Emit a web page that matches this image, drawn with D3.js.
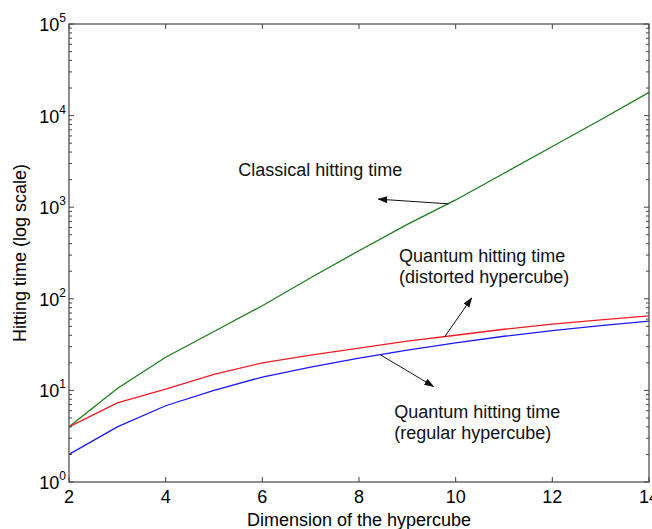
<!DOCTYPE html>
<html>
<head>
<meta charset="utf-8">
<script src="https://cdn.jsdelivr.net/npm/d3@7"></script>
<style>
  body { margin: 0; background: #fff; }
  svg { display: block; font-family: "Liberation Sans", Arial, Helvetica, sans-serif; }
  .frame line { stroke: #444; stroke-width: 1; }
  .series { fill: none; stroke-width: 1.3; }
  .note { font-size: 18px; fill: #111; }
  .arrow { stroke: #111; stroke-width: 1; }
</style>
</head>
<body>
<svg id="chart"></svg>
<script>
// hypercube dimension
const dims = [2, 3, 4, 5, 6, 7, 8, 9, 10, 11, 12, 13, 14];

// hitting times
const classical = [4, 10.5, 23, 44, 84, 170, 335, 650, 1200, 2350, 4600, 9000, 17900];
const distorted = [4, 7.3, 10.3, 15, 20, 24.3, 29, 34.5, 40, 46.5, 53, 59, 65];
const regular   = [2, 4, 6.8, 10, 14, 18, 22.5, 27.5, 33, 39, 45, 51, 57];

const xTicks = [2, 4, 6, 8, 10, 12, 14];
const yExponents = [0, 1, 2, 3, 4, 5];

// annotations in data coordinates: text anchor + arrow from/to
const notes = [
  {lines: ['Classical hitting time'], at: [5.5, 2200], from: [9.86, 1088], to: [8.40, 1224]},
  {lines: ['Quantum hitting time', '(distorted hypercube)'], at: [8.83, 254], from: [9.77, 38.3], to: [10.33, 102]},
  {lines: ['Quantum hitting time', '(regular hypercube)'], at: [8.73, 5.04], from: [8.44, 24.5], to: [9.54, 11.06]}
];

const config = {
  width: 652,
  height: 529,
  margin: {top: 24, right: 3, bottom: 47, left: 69}
};

const innerW = config.width - config.margin.left - config.margin.right;
const innerH = config.height - config.margin.top - config.margin.bottom;

const svg = d3.select('#chart')
    .attr('width', config.width)
    .attr('height', config.height);

// arrow head
svg.append('defs').append('marker')
    .attr('id', 'head')
    .attr('viewBox', '0 0 10 10')
    .attr('refX', 9).attr('refY', 5)
    .attr('markerWidth', 10).attr('markerHeight', 10)
    .attr('markerUnits', 'userSpaceOnUse')
    .attr('orient', 'auto')
  .append('path')
    .attr('d', 'M0,1.5 L10,5 L0,8.5 Z')
    .attr('fill', '#111');

const chart = svg.append('g')
    .attr('transform', `translate(${config.margin.left},${config.margin.top})`);

const xScale = d3.scaleLinear().domain([2, 14]).range([0, innerW]);
const yScale = d3.scaleLog().domain([1, 1e5]).range([innerH, 0]);

// series lines
const line = vals => d3.line()
    .x((d, i) => xScale(dims[i]))
    .y(d => yScale(d))(vals);

const series = [
  {vals: classical, color: '#1b7d1b'},
  {vals: distorted, color: '#ee1c24'},
  {vals: regular, color: '#1a1aee'}
];

chart.selectAll('.series')
    .data(series)
  .join('path')
    .attr('class', 'series')
    .attr('d', d => line(d.vals))
    .attr('stroke', d => d.color);

// frame with inward ticks on all four sides
const frame = chart.append('g').attr('class', 'frame');
frame.append('rect')
    .attr('width', innerW).attr('height', innerH)
    .attr('fill', 'none').attr('stroke', '#444').attr('stroke-width', 1.2);

const minorTicks = [];
yExponents.slice(0, -1).forEach(e => {
  for (let k = 2; k <= 9; k++) minorTicks.push(k * Math.pow(10, e));
});

xTicks.forEach(t => {
  const x = xScale(t);
  frame.append('line').attr('x1', x).attr('x2', x).attr('y1', innerH).attr('y2', innerH - 5);
  frame.append('line').attr('x1', x).attr('x2', x).attr('y1', 0).attr('y2', 5);
});

yExponents.forEach(e => {
  const y = yScale(Math.pow(10, e));
  frame.append('line').attr('x1', 0).attr('x2', 5).attr('y1', y).attr('y2', y);
  frame.append('line').attr('x1', innerW).attr('x2', innerW - 5).attr('y1', y).attr('y2', y);
});

minorTicks.forEach(v => {
  const y = yScale(v);
  frame.append('line').attr('x1', 0).attr('x2', 3).attr('y1', y).attr('y2', y);
  frame.append('line').attr('x1', innerW).attr('x2', innerW - 3).attr('y1', y).attr('y2', y);
});

// x tick labels
chart.selectAll('.xlab')
    .data(xTicks)
  .join('text')
    .attr('class', 'xlab')
    .attr('x', d => xScale(d))
    .attr('y', innerH + 21)
    .attr('text-anchor', 'middle')
    .style('font-size', '18px')
    .text(d => d);

// y tick labels 10^n
const ylab = chart.selectAll('.ylab')
    .data(yExponents)
  .join('text')
    .attr('class', 'ylab')
    .attr('x', -3)
    .attr('y', d => yScale(Math.pow(10, d)) + 7)
    .attr('text-anchor', 'end')
    .style('font-size', '18px');
ylab.append('tspan').text('10');
ylab.append('tspan')
    .attr('dy', -9)
    .style('font-size', '12px')
    .text(d => d);

// axis titles
chart.append('text')
    .attr('x', innerW / 2)
    .attr('y', innerH + 44)
    .attr('text-anchor', 'middle')
    .style('font-size', '18px')
    .text('Dimension of the hypercube');

chart.append('text')
    .attr('transform', `translate(${-43},${innerH / 2}) rotate(-90)`)
    .attr('text-anchor', 'middle')
    .style('font-size', '18px')
    .text('Hitting time (log scale)');

// annotations
notes.forEach(n => {
  const t = chart.append('text')
      .attr('class', 'note')
      .attr('x', xScale(n.at[0]))
      .attr('y', yScale(n.at[1]));
  n.lines.forEach((s, i) => {
    t.append('tspan')
        .attr('x', xScale(n.at[0]))
        .attr('dy', i === 0 ? 0 : 21)
        .text(s);
  });
  chart.append('line')
      .attr('class', 'arrow')
      .attr('x1', xScale(n.from[0])).attr('y1', yScale(n.from[1]))
      .attr('x2', xScale(n.to[0])).attr('y2', yScale(n.to[1]))
      .attr('marker-end', 'url(#head)');
});
</script>
</body>
</html>
